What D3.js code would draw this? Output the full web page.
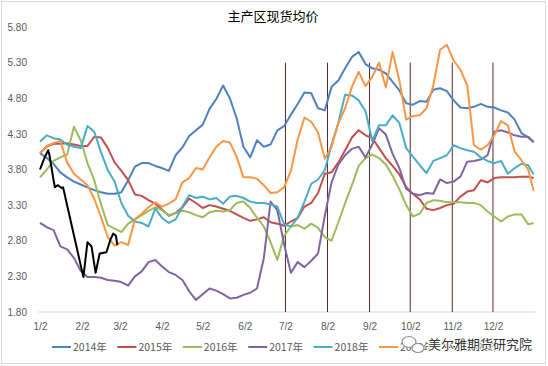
<!DOCTYPE html>
<html>
<head>
<meta charset="utf-8">
<script src="https://cdn.jsdelivr.net/npm/d3@7"></script>
<style>body{margin:0;background:#fff}</style>
</head>
<body>
<script>
//DATA - days counted from 1/2, one reading every 5 days
var days = [0,5,10,15,20,25,30,35,40,45,50,55,60,65,70,75,80,85,90,95,
  100,105,110,115,120,125,130,135,140,145,150,155,160,165,170,175,180,185,190,195,
  200,205,210,215,220,225,230,235,240,245,250,255,260,265,270,275,280,285,290,295,
  300,305,310,315,320,325,330,335,340,345,350,355,360,364];

var v2014 = [4.03,3.96,3.88,3.76,3.69,3.63,3.59,3.55,3.51,3.48,
  3.46,3.46,3.48,3.65,3.84,3.89,3.89,3.85,3.82,3.78,
  4.00,4.11,4.27,4.35,4.43,4.65,4.79,4.98,4.80,4.52,
  4.12,3.97,4.21,4.12,4.15,4.35,4.41,4.57,4.72,4.88,
  4.87,4.66,4.63,4.96,5.05,5.22,5.38,5.45,5.28,5.22,
  5.20,5.15,5.03,4.91,4.73,4.71,4.76,4.75,4.92,4.94,
  4.90,4.77,4.67,4.66,4.68,4.72,4.68,4.67,4.63,4.60,
  4.50,4.31,4.25,4.19];
var v2015 = [4.03,4.12,4.16,4.16,4.17,4.15,4.13,4.13,4.26,4.25,
  4.10,3.90,3.78,3.65,3.45,3.43,3.37,3.32,3.24,3.15,
  3.19,3.27,3.39,3.33,3.26,3.30,3.28,3.25,3.22,3.17,
  3.12,3.08,3.10,3.13,3.06,3.04,3.01,3.07,3.12,3.28,
  3.33,3.47,3.74,3.76,3.90,4.07,4.25,4.35,4.28,4.24,
  4.10,3.96,3.85,3.73,3.55,3.46,3.38,3.25,3.23,3.26,
  3.30,3.32,3.42,3.49,3.51,3.65,3.62,3.68,3.69,3.69,
  3.69,3.70,3.70,3.68];
var v2016 = [3.69,3.80,3.92,3.97,4.01,4.40,4.21,3.89,3.65,3.31,
  3.02,2.97,2.92,3.04,3.10,3.16,3.22,3.27,3.23,3.16,
  3.19,3.22,3.20,3.16,3.13,3.20,3.22,3.21,3.23,3.33,
  3.35,3.26,3.12,3.00,2.78,2.53,2.87,3.00,3.02,2.97,
  3.04,2.98,2.85,2.80,3.06,3.33,3.58,3.85,3.96,4.01,
  3.96,3.87,3.71,3.52,3.30,3.14,3.18,3.33,3.37,3.36,
  3.34,3.34,3.34,3.33,3.33,3.30,3.21,3.14,3.07,3.14,
  3.17,3.17,3.03,3.05];
var v2017 = [3.05,2.99,2.95,2.72,2.68,2.56,2.38,2.29,2.29,2.28,
  2.25,2.24,2.22,2.17,2.30,2.37,2.50,2.53,2.44,2.36,
  2.32,2.25,2.09,1.97,2.05,2.13,2.10,2.05,1.99,2.00,
  2.04,2.07,2.13,2.55,3.35,3.23,2.75,2.35,2.50,2.43,
  2.52,2.62,3.15,3.62,3.87,4.00,4.09,4.12,3.97,4.15,
  4.38,4.29,4.02,3.82,3.53,3.46,3.44,3.47,3.46,3.66,
  3.61,3.63,3.70,3.91,3.92,3.94,4.00,4.33,4.35,4.32,
  4.28,4.26,4.26,4.18];
var v2018 = [4.19,4.28,4.24,4.22,4.15,4.12,4.10,4.41,4.33,4.04,
  3.79,3.63,3.33,3.15,3.07,3.05,3.00,3.25,3.12,3.05,
  3.10,3.28,3.44,3.40,3.42,3.38,3.40,3.32,3.42,3.43,
  3.40,3.35,3.33,3.33,3.31,3.28,3.03,3.00,3.12,3.35,
  3.60,3.66,3.79,4.15,4.46,4.85,4.84,4.77,4.62,4.20,
  4.42,4.42,4.56,4.45,4.10,3.98,3.86,3.75,3.92,3.96,
  4.00,4.14,4.10,4.07,4.05,3.97,3.92,3.89,3.92,3.74,
  3.82,3.88,3.86,3.73];
var v2019 = [4.03,4.13,4.17,4.20,3.90,3.74,3.66,3.58,3.39,3.13,
  2.85,2.73,2.78,2.74,3.10,3.18,3.27,3.34,3.28,3.32,
  3.38,3.62,3.68,3.82,3.80,3.97,4.12,4.20,4.18,3.98,
  3.69,3.69,3.67,3.58,3.47,3.48,3.55,3.78,4.22,4.53,
  4.47,4.32,3.95,4.12,4.45,4.66,4.96,5.17,4.97,5.10,
  5.30,4.95,5.45,5.05,4.50,4.55,4.56,4.66,4.98,5.48,
  5.55,5.33,5.20,4.98,4.14,4.08,4.14,4.28,4.48,4.42,
  4.05,3.93,3.80,3.50];

//2020 only has the first two months, with a gap over the new year holiday
var days2020 = [0,3,6,7,10,11,13,16,17,32,35,38,41,44,49,52,54,56,57];
var v2020 = [3.80,3.95,4.07,4.00,3.65,3.55,3.58,3.54,3.55,2.29,2.78,2.72,2.35,2.62,2.64,2.82,2.90,2.87,2.74];

var years = ["2014年","2015年","2016年","2017年","2018年","2019年","2020年"];
var colors = ["#4f81bd","#c0504d","#9bbb59","#8064a2","#4bacc6","#f79646","#000000"];

var monthDays = [0,31,59,90,120,151,181,212,243,273,304,334];
var monthLabels = ["1/2","2/2","3/2","4/2","5/2","6/2","7/2","8/2","9/2","10/2","11/2","12/2"];
var yTicks = [1.8,2.3,2.8,3.3,3.8,4.3,4.8,5.3,5.8];

//month marks drawn as tall lines
var markDays = [181,212,243,273,304,334];
var markTop = 5.3;

//SETTING UP THE CANVAS
var w = 548;
var h = 366;
var svg = d3.select("body").append("svg")
  .attr("width", w)
  .attr("height", h)
  .style("font-family", "'Noto Sans CJK SC','Noto Sans',sans-serif");

svg.append("rect")
  .attr("x", 1.5).attr("y", 1.5)
  .attr("width", 544).attr("height", 362)
  .attr("fill", "white")
  .attr("stroke", "#d9d9d9");

var x = d3.scaleLinear().domain([0, 365]).range([40, 535]);
var y = d3.scaleLinear().domain([1.8, 5.8]).range([312, 27]);

//TITLE
svg.append("text")
  .attr("x", 273).attr("y", 21)
  .attr("text-anchor", "middle")
  .attr("font-size", 13)
  .attr("fill", "#000")
  .text("主产区现货均价");

//AXES
var yAxis = svg.append("g")
  .attr("transform", "translate(40,0)")
  .call(d3.axisLeft(y).tickValues(yTicks).tickSize(0).tickPadding(13).tickFormat(d3.format(".2f")));
yAxis.select(".domain").remove();
yAxis.selectAll("text").attr("font-size", 10).attr("fill", "#595959").attr("font-family", null);

var xAxis = svg.append("g")
  .attr("transform", "translate(0,312)")
  .call(d3.axisBottom(x).tickValues(monthDays).tickSize(0).tickPadding(11)
    .tickFormat(function(d, i){ return monthLabels[i]; }));
xAxis.select(".domain").remove();
xAxis.selectAll("text").attr("font-size", 10).attr("fill", "#595959").attr("font-family", null);

svg.append("line")
  .attr("x1", 38).attr("x2", 535)
  .attr("y1", y(1.8)).attr("y2", y(1.8))
  .attr("stroke", "#d9d9d9");

//LINES
var series = [v2014, v2015, v2016, v2017, v2018, v2019].map(function(vals, i){
  return { name: years[i], color: colors[i], pts: days.map(function(d, j){ return [d, vals[j]]; }) };
});
series.push({ name: years[6], color: colors[6], pts: days2020.map(function(d, j){ return [d, v2020[j]]; }) });

var line = d3.line()
  .x(function(d){ return x(d[0]); })
  .y(function(d){ return y(d[1]); });

svg.selectAll(".marks")
  .data(markDays)
  .join("line")
  .attr("x1", function(d){ return x(d); })
  .attr("x2", function(d){ return x(d); })
  .attr("y1", y(markTop))
  .attr("y2", y(1.8))
  .attr("stroke", "#5a2a2a")
  .attr("stroke-width", 1);

svg.selectAll(".series")
  .data(series)
  .join("path")
  .attr("d", function(d){ return line(d.pts); })
  .attr("fill", "none")
  .attr("stroke", function(d){ return d.color; })
  .attr("stroke-width", 2)
  .attr("stroke-linejoin", "round");

//LEGEND
var leg = svg.selectAll(".leg")
  .data(series)
  .join("g")
  .attr("transform", function(d, i){ return "translate(" + (52 + i*65.4) + ",347)"; });
leg.append("line")
  .attr("x1", 0).attr("x2", 19)
  .attr("stroke", function(d){ return d.color; })
  .attr("stroke-width", 2);
leg.append("text")
  .attr("x", 21).attr("dy", "0.35em")
  .attr("font-size", 10.5)
  .attr("fill", "#595959")
  .text(function(d){ return d.name; });

//WATERMARK
var wm = svg.append("g").attr("transform", "translate(0,0)");
wm.append("ellipse").attr("cx", 409).attr("cy", 342).attr("rx", 7).attr("ry", 5.5)
  .attr("fill", "white").attr("stroke", "#8a8a8a").attr("stroke-width", 1.2);
wm.append("ellipse").attr("cx", 418).attr("cy", 348).attr("rx", 6).attr("ry", 4.5)
  .attr("fill", "white").attr("stroke", "#8a8a8a").attr("stroke-width", 1.2);
wm.append("text")
  .attr("x", 428).attr("y", 349)
  .attr("font-size", 13)
  .attr("fill", "#333")
  .attr("stroke", "white").attr("stroke-width", 2).attr("paint-order", "stroke")
  .text("美尔雅期货研究院");
</script>
</body>
</html>
